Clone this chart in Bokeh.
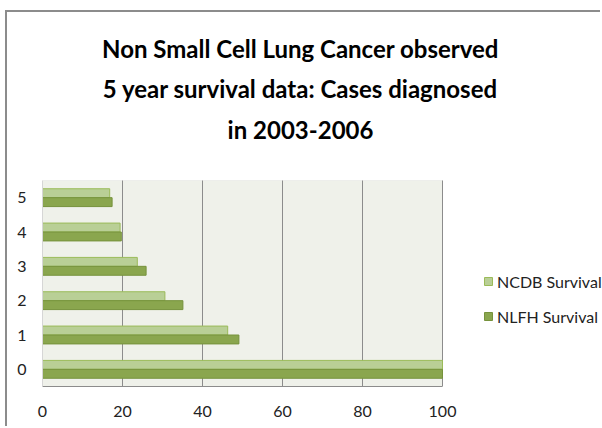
from bokeh.plotting import figure
from bokeh.models import (Legend, LegendItem, FixedTicker, Range1d, Label,
                          BoxAnnotation)
from bokeh.embed import file_html
from bokeh.resources import INLINE

categories = [0, 1, 2, 3, 4, 5]
ncdb_survival = [100, 46.3, 30.6, 23.7, 19.4, 16.8]
nlfh_survival = [100, 49.1, 35.1, 25.9, 19.7, 17.4]
x_ticks = [0, 20, 40, 60, 80, 100]
title_lines = ["Non Small Cell Lung Cancer observed",
               "5 year survival data: Cases diagnosed",
               "in 2003-2006"]
series_names = ["NCDB Survival", "NLFH Survival"]

FONT = "Lato"

# layout (pixels inside the canvas)
W, H = 595, 416
AREA_L, AREA_R = 35, 435      # plot area left / right (canvas px)
AREA_T, AREA_B = 168, 374     # plot area top / bottom (canvas px)
X0, X1 = x_ticks[0], x_ticks[-1]
Y0, Y1 = categories[0] - 0.5, categories[-1] + 0.5
px_x = (AREA_R - AREA_L) / (X1 - X0)
px_y = (AREA_B - AREA_T) / (Y1 - Y0)
x_max = X0 + (W - AREA_L) / px_x
y_max = Y1 + AREA_T / px_y

p = figure(width=W, height=H, output_backend="svg", toolbar_location=None,
           x_range=Range1d(X0, x_max), y_range=Range1d(Y0, y_max),
           min_border_left=AREA_L, min_border_right=0, min_border_top=0,
           min_border_bottom=H - AREA_B)
p.background_fill_color = "white"
p.border_fill_color = "white"
p.outline_line_color = None

p.add_layout(BoxAnnotation(left=X0, right=X1, bottom=Y0, top=Y1,
                           fill_color="#eff1ea", fill_alpha=1,
                           line_color="#d6d6d6", line_width=1, level="image"))

off = 0.13
h = 0.26
ncdb_y = [c + off for c in categories]
nlfh_y = [c - off for c in categories]
r1 = p.hbar(y=ncdb_y, right=ncdb_survival, left=0, height=h,
            fill_color="#b9cf96", line_color="#9bbb59", line_width=1)
r2 = p.hbar(y=nlfh_y, right=nlfh_survival, left=0, height=h,
            fill_color="#8aa64e", line_color="#76923c", line_width=1)

p.xaxis.ticker = FixedTicker(ticks=x_ticks)
p.yaxis.ticker = FixedTicker(ticks=categories)
p.xaxis.bounds = (X0, X1)
p.yaxis.bounds = (Y0, Y1)
for ax in (p.xaxis, p.yaxis):
    ax.major_tick_line_color = None
    ax.minor_tick_line_color = None
    ax.major_label_text_font = FONT
    ax.major_label_text_font_size = "16px"
    ax.major_label_text_color = "#222222"
p.xaxis.axis_line_color = "#8c8c8c"
p.xaxis.axis_line_width = 1
p.yaxis.axis_line_color = "#d6d6d6"
p.xaxis.major_label_standoff = 13
p.yaxis.major_label_standoff = 10

p.ygrid.grid_line_color = None
p.xgrid.grid_line_color = "#8c8c8c"
p.xgrid.ticker = FixedTicker(ticks=x_ticks)
p.xgrid.bounds = (X0, X1)
p.xgrid.cross_bounds = (Y0, Y1)

legend = Legend(items=[LegendItem(label=series_names[0], renderers=[r1]),
                       LegendItem(label=series_names[1], renderers=[r2])],
                location=(441, 60), background_fill_alpha=0, border_line_color=None,
                glyph_width=10, glyph_height=10, label_standoff=4, spacing=15,
                label_height=20,
                label_text_font=FONT, label_text_font_size="16px",
                label_text_color="#222222", padding=0, margin=0)
p.add_layout(legend, "center")

# title lines: canvas px positions of centre and line middles
title_cx = 293
title_middles = [36, 76, 117]
for txt, m in zip(title_lines, title_middles):
    p.add_layout(Label(x=X0 + (title_cx - AREA_L) / px_x,
                       y=Y1 + (AREA_T - m) / px_y,
                       text=txt, text_align="center", text_baseline="middle",
                       text_font=FONT, text_font_style="bold",
                       text_font_size="24px", text_color="black"))

p.styles = {"margin-left": "5px", "margin-top": "10px",
            "border-left": "2px solid #8c8c8c", "border-top": "2px solid #8c8c8c"}

open("out.html", "w").write(file_html(p, INLINE))
